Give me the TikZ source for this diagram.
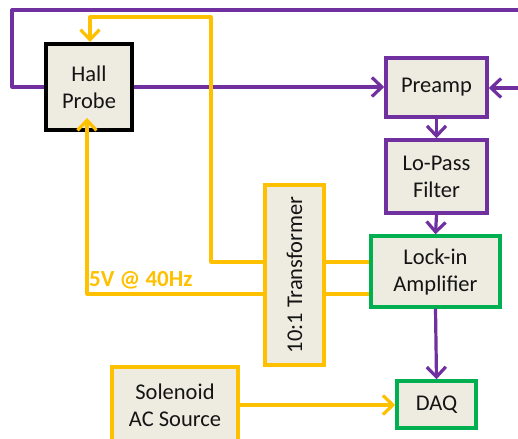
\documentclass[tikz,border=0pt]{standalone}
\usepackage{fontspec}
\setmainfont{Carlito}
\usetikzlibrary{arrows.meta}
\definecolor{sigpurple}{HTML}{7030A0}
\definecolor{pwryellow}{HTML}{FFC000}
\definecolor{daqgreen}{HTML}{00B050}
\definecolor{boxfill}{HTML}{EEECE1}
\definecolor{labeltext}{HTML}{141414}
\tikzset{
  blk/.style={draw, fill=boxfill, line width=3.5pt, align=center, inner sep=0pt,
    text=labeltext, font=\fontsize{22.5}{27}\selectfont},
  sig/.style={draw=sigpurple, line width=3.2pt, line join=round},
  pwr/.style={draw=pwryellow, line width=3.2pt, line join=round},
  tip/.style={-{Straight Barb[length=10pt, width=19pt, line width=3.2pt]}},
}
\begin{document}
\begin{tikzpicture}[x=1pt, y=-1pt]
\useasboundingbox (0,0) rectangle (518,438);
\clip (0,0) rectangle (518,438);

% blocks
\node[blk, draw=black, line width=4pt, minimum width=86pt, minimum height=86pt] (hall) at (89,87) {Hall\\Probe};
\node[blk, draw=sigpurple, minimum width=101pt, minimum height=59pt] (preamp) at (436.5,87.5) {Preamp};
\node[blk, draw=sigpurple, minimum width=101pt, minimum height=73pt] (lopass) at (436.5,176.5) {Lo-Pass\\Filter};
\node[blk, draw=daqgreen, minimum width=129pt, minimum height=71pt] (lockin) at (435.5,271.5) {Lock-in\\Amplifier};
\node[blk, draw=pwryellow, minimum width=59pt, minimum height=180pt] (xfmr) at (294.5,275) {};
\node[rotate=90, text=labeltext, font=\fontsize{22.5}{27}\selectfont] (xfmrlabel) at (xfmr.center) {10:1 Transformer};
\node[blk, draw=daqgreen, minimum width=79pt, minimum height=47pt] (daq) at (436.5,404.5) {DAQ};
\node[blk, draw=pwryellow, minimum width=126pt, minimum height=76pt] (sol) at (175,405) {Solenoid\\AC Source};

% free ends and corners
\coordinate (topR) at (522,10);
\coordinate (topL) at (12,10);
\coordinate (loopL) at (12,87);
\coordinate (preR) at (522,88);
\coordinate (refTop) at (211,17);
\coordinate (refTopL) at (90,17);
\coordinate (refBot) at (211,262);
\coordinate (drvBot) at (87,294);
\coordinate (hallIn) at (87,118);

% signal path (purple)
\draw[sig] (topR) -- (topL) -- (loopL) -- (hall.west |- loopL);
\draw[sig, tip] (hall.east |- loopL) -- (preamp.west |- loopL);
\draw[sig, tip] (preR) -- (preamp.east |- preR);
\draw[sig, tip] (preamp.south) -- (lopass.north);
\draw[sig, tip] (lopass.south) -- (lockin.north);
\draw[sig, tip] (lockin.south) -- (daq.north);

% excitation and reference (yellow)
\draw[pwr, tip] (xfmr.west |- refBot) -- (refBot) -- (refTop) -- (refTopL) -- (hall.north -| refTopL);
\draw[pwr, tip] (xfmr.west |- drvBot) -- (drvBot) -- (hallIn);
\draw[pwr] (xfmr.east |- refBot) -- (lockin.west |- refBot);
\draw[pwr] (xfmr.east |- drvBot) -- (lockin.west |- drvBot);
\draw[pwr, tip] (sol.east) -- (daq.west |- sol.east);

\node[anchor=south west, inner sep=0pt, text=pwryellow, font=\fontsize{23}{27}\selectfont\bfseries] (drvlabel) at (89,289) {5V @ 40Hz};
\end{tikzpicture}
\end{document}
